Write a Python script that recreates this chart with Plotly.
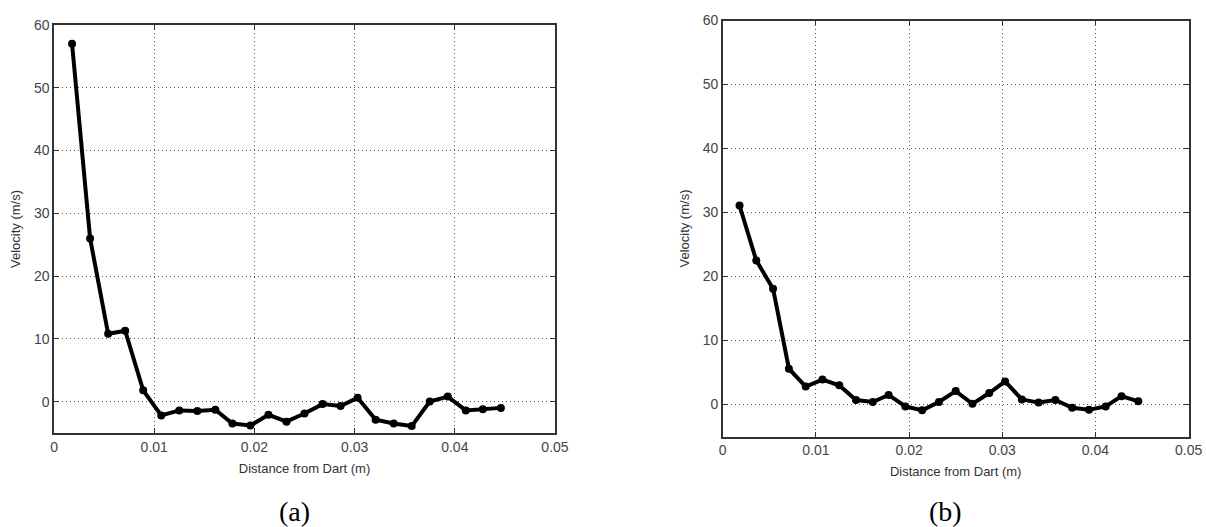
import plotly.graph_objects as go

# Distance from the dart (m), shared by both runs
distance = [0.0018, 0.0036, 0.0054, 0.0071, 0.0089, 0.0107, 0.0125, 0.0143,
            0.0161, 0.0178, 0.0196, 0.0214, 0.0232, 0.0250, 0.0268, 0.0286,
            0.0303, 0.0321, 0.0339, 0.0357, 0.0375, 0.0393, 0.0411, 0.0428,
            0.0446]

# Velocity (m/s) for case (a)
velocity_a = [57.0, 26.0, 10.8, 11.3, 1.8, -2.2, -1.4, -1.5, -1.3, -3.5,
              -3.8, -2.1, -3.2, -1.9, -0.4, -0.7, 0.6, -2.9, -3.5, -3.9,
              0.0, 0.8, -1.4, -1.2, -1.0]

# Velocity (m/s) for case (b)
velocity_b = [31.1, 22.5, 18.1, 5.6, 2.8, 3.9, 3.0, 0.7, 0.4, 1.5,
              -0.3, -0.9, 0.4, 2.1, 0.1, 1.8, 3.6, 0.8, 0.3, 0.7,
              -0.5, -0.8, -0.3, 1.3, 0.5]

x_ticks = [0, 0.01, 0.02, 0.03, 0.04, 0.05]
y_ticks = [0, 10, 20, 30, 40, 50, 60]
captions = ["(a)", "(b)"]

FONT = "Liberation Sans, Arial, sans-serif"
line_style = dict(color="black", width=4)
marker_style = dict(color="black", size=8, symbol="circle")

fig = go.Figure()
fig.add_trace(go.Scatter(x=distance, y=velocity_a, mode="lines+markers",
                         line=line_style, marker=marker_style,
                         xaxis="x", yaxis="y", showlegend=False))
fig.add_trace(go.Scatter(x=distance, y=velocity_b, mode="lines+markers",
                         line=line_style, marker=marker_style,
                         xaxis="x2", yaxis="y2", showlegend=False))

common_x = dict(range=[0, 0.05], tickvals=x_ticks,
                ticktext=[f"{v:g}" for v in x_ticks],
                automargin=False,
                showgrid=True, gridcolor="#555", griddash="1px,3px", gridwidth=1,
                showline=True, linecolor="#333", linewidth=1.5, mirror="ticks",
                ticks="inside", ticklen=5, tickcolor="#333",
                zeroline=False,
                tickfont=dict(family=FONT, size=14, color="#444"),
                title=dict(text="Distance from Dart (m)",
                           font=dict(family=FONT, size=13, color="#333"),
                           standoff=10))
common_y = dict(range=[-5, 60], tickvals=y_ticks,
                automargin=False,
                showgrid=True, gridcolor="#555", griddash="1px,3px", gridwidth=1,
                showline=True, linecolor="#333", linewidth=1.5, mirror="ticks",
                ticks="inside", ticklen=5, tickcolor="#333",
                zeroline=False,
                tickfont=dict(family=FONT, size=14, color="#444"),
                title=dict(text="Velocity (m/s)",
                           font=dict(family=FONT, size=13, color="#333"),
                           standoff=10))

fig.update_layout(
    width=1206, height=527,
    margin=dict(l=0, r=0, t=0, b=0),
    paper_bgcolor="white", plot_bgcolor="white",
    xaxis=dict(domain=[0.0448, 0.4602], anchor="y", **common_x),
    yaxis=dict(domain=[0.1784, 0.9526], anchor="x", **common_y),
    xaxis2=dict(domain=[0.5993, 0.9856], anchor="y2", **common_x),
    yaxis2=dict(domain=[0.1717, 0.9610], anchor="x2", **common_y),
)

for xpos, text in zip([0.2442, 0.7844], captions):
    fig.add_annotation(x=xpos, y=0.030, xref="paper", yref="paper",
                       xanchor="center", yanchor="middle",
                       text=text, showarrow=False,
                       font=dict(family="Liberation Serif, Times New Roman, serif",
                                 size=28, color="black"))

fig.write_html("out.html")
